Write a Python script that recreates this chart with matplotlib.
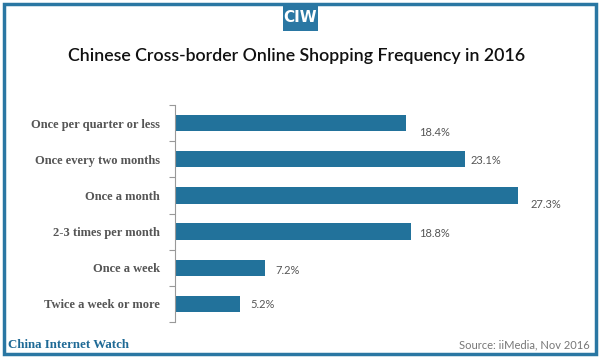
import matplotlib
matplotlib.use("Agg")
import matplotlib.pyplot as plt
from matplotlib.patches import Rectangle

categories = ["Once per quarter or less", "Once every two months", "Once a month",
              "2-3 times per month", "Once a week", "Twice a week or more"]
values = [18.4, 23.1, 27.3, 18.8, 7.2, 5.2]
value_labels = ["18.4%", "23.1%", "27.3%", "18.8%", "7.2%", "5.2%"]
# label offsets in pixels (dx, dy down)
label_offsets = [(13, 9), (6, 1), (13, 9), (8, 2), (10, 3), (10, 1)]

W, H = 600, 359
fig = plt.figure(figsize=(6, 3.59), dpi=100)
blue = "#22729b"

# border
fig.patches.append(Rectangle((4 / W, 5 / H), 592 / W, 350 / H, transform=fig.transFigure,
                             fill=False, edgecolor="#2a77a3", linewidth=2.5))
# CIW box
fig.patches.append(Rectangle((283 / W, 1 - 31 / H), 35 / W, 27 / H, transform=fig.transFigure,
                             facecolor="#2a77a3", edgecolor="none"))
fig.text(300.5 / W, 1 - 18 / H, "CIW", ha="center", va="center", color="white",
         fontsize=11, fontweight="bold", family="DejaVu Sans Condensed")

fig.text(297 / W, 1 - 56 / H, "Chinese Cross-border Online Shopping Frequency in 2016",
         ha="center", va="center", fontsize=12.8, fontweight="semibold",
         color="#111111", family="Lato")

ax = fig.add_axes([175 / W, 1 - 322 / H, 376.5 / W, 217 / H])
y = list(range(len(categories)))
ax.barh(y, values, height=0.45, color=blue)
ax.set_xlim(0, 30)
ax.set_ylim(len(categories) - 0.5, -0.5)
ax.set_yticks(y)
ax.set_yticklabels(categories, family="Liberation Serif", fontweight="bold",
                   fontsize=9, color="#555555")
ax.set_yticks([i - 0.5 for i in range(len(categories) + 1)], minor=True)
ax.tick_params(axis="y", which="major", length=0, pad=11)
ax.tick_params(axis="y", which="minor", length=4, color="#999999", width=0.8)
ax.set_xticks([])
for s in ["top", "right", "bottom"]:
    ax.spines[s].set_visible(False)
ax.spines["left"].set_color("#999999")
ax.spines["left"].set_linewidth(0.8)

for i, (v, lab, off) in enumerate(zip(values, value_labels, label_offsets)):
    ax.annotate(lab, (v, i), xytext=(off[0] * 0.72, -off[1] * 0.72), textcoords="offset points",
                ha="left", va="center", fontsize=8, color="#555555", family="Lato")

fig.text(8 / W, 1 - 345 / H, "China Internet Watch", ha="left", va="center",
         family="Liberation Serif", fontweight="bold", fontsize=9.3, color="#1f6a96")
fig.text(590 / W, 1 - 345 / H, "Source: iiMedia, Nov 2016", ha="right", va="center",
         fontsize=8, color="#777777", family="Lato")

fig.savefig("out.png", dpi=100)
